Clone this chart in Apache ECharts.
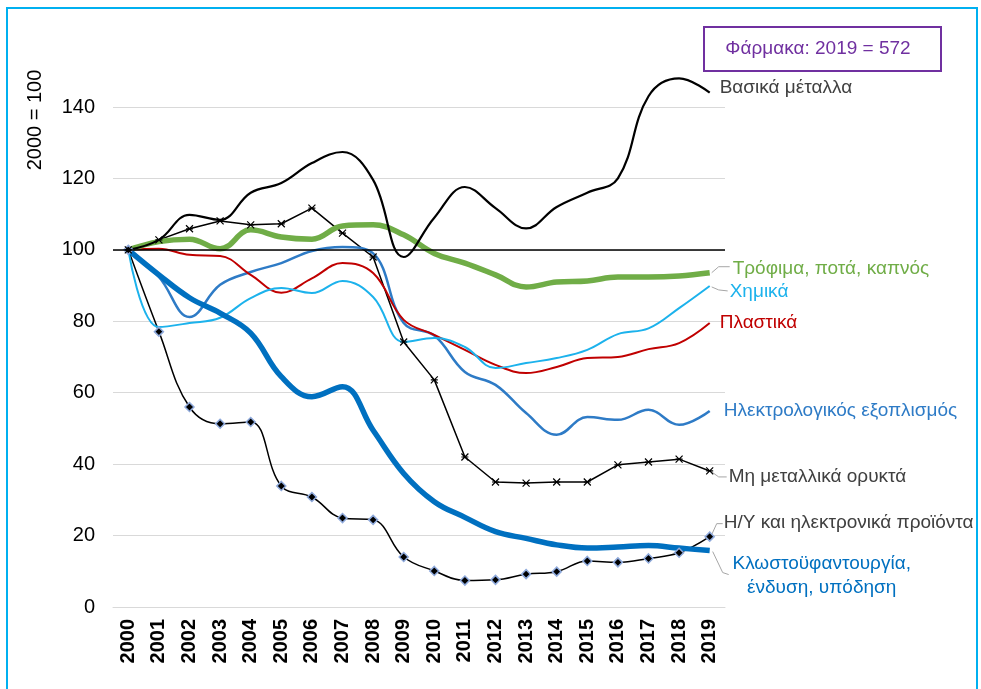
<!DOCTYPE html>
<html>
<head>
<meta charset="utf-8">
<script src="https://cdn.jsdelivr.net/npm/echarts@6/dist/echarts.min.js"></script>
<style>
  html, body { margin: 0; padding: 0; background: #fff; }
  #chart { width: 981px; height: 689px; }
</style>
</head>
<body>
<div id="chart"></div>
<script>
// ====== Data ======
const years = ['2000', '2001', '2002', '2003', '2004', '2005', '2006', '2007', '2008', '2009',
  '2010', '2011', '2012', '2013', '2014', '2015', '2016', '2017', '2018', '2019'];

const basicMetals = [100, 102.8, 109.8, 108.4, 116, 118.7, 124.3, 127.4, 119.6, 98, 109, 117.6, 111.7, 106, 112, 116, 120, 143, 148, 144];
const food = [100, 102.3, 103, 100.3, 105.6, 103.6, 103, 106.7, 107, 104.2, 99, 96.3, 93, 89.6, 91, 91.3, 92.4, 92.4, 92.7, 93.6];
const chemicals = [100, 78.4, 79.5, 81, 86.5, 89.3, 87.9, 91.3, 86.8, 74.2, 75.3, 72.8, 66.9, 68.3, 69.7, 72, 76.4, 78, 83.7, 89.9];
const plastics = [100, 100.3, 98.6, 98.3, 93, 88, 92, 96.3, 93.5, 80.4, 76.2, 72, 67.8, 65.5, 67.2, 69.7, 70, 72.2, 73.9, 79.5];
const electrical = [100, 92.4, 81.2, 90.2, 93.8, 96.3, 99.7, 100.8, 99, 79.5, 76, 65.8, 62.2, 54.3, 48.2, 53.2, 52.4, 55.2, 51, 54.9];
const nonMetallic = [100, 102.8, 105.9, 108.1, 107, 107.3, 111.7, 104.7, 98, 74.2, 63.6, 42, 35, 34.7, 35, 35, 39.8, 40.6, 41.4, 38.1];
const computers = [100, 77.1, 56, 51.3, 51.8, 33.9, 30.8, 24.9, 24.4, 14, 10.1, 7.4, 7.6, 9.2, 9.9, 12.9, 12.5, 13.6, 15.2, 19.7];
const textiles = [100, 93, 86.6, 82.3, 76.7, 64.5, 58.9, 61.7, 49.5, 37.4, 29.5, 25.1, 21.1, 19.2, 17.4, 16.5, 16.8, 17.2, 16.5, 15.8];

const yTicks = [0, 20, 40, 60, 80, 100, 120, 140];
const baseValue = 100;
const note = 'Φάρμακα: 2019 = 572';

const FONT = '"Liberation Sans", Arial, sans-serif';

// end label helper: text next to last point
function endLabel(text, color, offset, extra) {
  return Object.assign({
    show: true,
    formatter: text,
    color: color,
    fontFamily: FONT,
    fontSize: 19,
    offset: offset,
    align: 'left',
    verticalAlign: 'middle',
    distance: 0
  }, extra || {});
}

const starSymbol = 'path://M0,0L10,10M10,0L0,10M0,5L10,5';

const chartDom = document.getElementById('chart');
const myChart = echarts.init(chartDom);

const option = {
  animation: false,
  textStyle: { fontFamily: FONT },
  grid: { left: 113, right: 256, top: 107, bottom: 82 },
  xAxis: {
    type: 'category',
    data: years,
    boundaryGap: true,
    axisLine: { lineStyle: { color: '#D9D9D9' } },
    axisTick: { show: false },
    axisLabel: {
      rotate: 90,
      color: '#000',
      fontWeight: 'bold',
      fontSize: 20,
      fontFamily: FONT,
      margin: 12,
      interval: 0
    }
  },
  yAxis: {
    type: 'value',
    min: yTicks[0],
    max: yTicks[yTicks.length - 1],
    interval: 20,
    axisLine: { show: false },
    axisTick: { show: false },
    splitLine: { lineStyle: { color: '#D9D9D9', width: 1 } },
    axisLabel: { color: '#000', fontSize: 20, fontFamily: FONT, margin: 18 }
  },
  series: [
    {
      name: 'Η/Υ και ηλεκτρονικά προϊόντα',
      type: 'line',
      data: computers,
      smooth: 0.4,
      symbol: 'diamond',
      symbolSize: 9,
      lineStyle: { color: '#000', width: 1.5 },
      itemStyle: { color: '#000', borderColor: '#8FAADC', borderWidth: 1.5 },
      endLabel: endLabel('Η/Υ και ηλεκτρονικά προϊόντα', '#404040', [14, -14])
    },
    {
      name: 'Μη μεταλλικά ορυκτά',
      type: 'line',
      data: nonMetallic,
      smooth: false,
      symbol: starSymbol,
      symbolSize: 7,
      lineStyle: { color: '#000', width: 1.5 },
      itemStyle: { color: '#000', borderColor: '#000', borderWidth: 1.2 },
      endLabel: endLabel('Μη μεταλλικά ορυκτά', '#404040', [19, 6])
    },
    {
      name: 'Ηλεκτρολογικός εξοπλισμός',
      type: 'line',
      data: electrical,
      smooth: 0.4,
      showSymbol: false,
      lineStyle: { color: '#2E7BC6', width: 2.5 },
      itemStyle: { color: '#2E7BC6' },
      endLabel: endLabel('Ηλεκτρολογικός εξοπλισμός', '#2E7BC6', [14, 0])
    },
    {
      name: 'Πλαστικά',
      type: 'line',
      data: plastics,
      smooth: 0.4,
      showSymbol: false,
      lineStyle: { color: '#C00000', width: 2 },
      itemStyle: { color: '#C00000' },
      endLabel: endLabel('Πλαστικά', '#C00000', [10, 0])
    },
    {
      name: 'Χημικά',
      type: 'line',
      data: chemicals,
      smooth: 0.4,
      showSymbol: false,
      lineStyle: { color: '#1CB2EC', width: 2 },
      itemStyle: { color: '#1CB2EC' },
      endLabel: endLabel('Χημικά', '#1CB2EC', [20, 6])
    },
    {
      name: 'Τρόφιμα, ποτά, καπνός',
      type: 'line',
      data: food,
      smooth: 0.4,
      showSymbol: false,
      lineStyle: { color: '#70AD47', width: 5.5 },
      itemStyle: { color: '#70AD47' },
      endLabel: endLabel('Τρόφιμα, ποτά, καπνός', '#70AD47', [23, -4])
    },
    {
      name: 'Βασικά μέταλλα',
      type: 'line',
      data: basicMetals,
      smooth: 0.4,
      showSymbol: false,
      clip: false,
      lineStyle: { color: '#000', width: 2.2 },
      itemStyle: { color: '#000' },
      endLabel: endLabel('Βασικά μέταλλα', '#404040', [10, -5]),
      markLine: {
        silent: true,
        symbol: 'none',
        label: { show: false },
        lineStyle: { color: '#000', width: 1.5, type: 'solid' },
        data: [{ yAxis: baseValue }]
      }
    },
    {
      name: 'Κλωστοϋφαντουργία, ένδυση, υπόδηση',
      type: 'line',
      data: textiles,
      smooth: 0.4,
      showSymbol: false,
      lineStyle: { color: '#0070C0', width: 5.5 },
      itemStyle: { color: '#0070C0' },
      endLabel: endLabel('Κλωστοϋφαντουργία,\nένδυση, υπόδηση', '#0070C0', [112, 25],
        { align: 'center', lineHeight: 24 })
    }
  ],
  graphic: [
    {
      type: 'rect',
      shape: { x: 7, y: 8, width: 970, height: 700 },
      style: { fill: 'none', stroke: '#00B0F0', lineWidth: 2 },
      silent: true
    },
    {
      type: 'text',
      x: 35, y: 120,
      rotation: Math.PI / 2,
      style: {
        text: '2000 = 100',
        fill: '#000',
        font: '20px ' + FONT,
        align: 'center',
        verticalAlign: 'middle'
      }
    },
    {
      type: 'rect',
      shape: { x: 704, y: 27, width: 237, height: 44 },
      style: { fill: '#fff', stroke: '#7030A0', lineWidth: 2 }
    },
    {
      type: 'text',
      x: 818, y: 49,
      style: {
        text: note,
        fill: '#7030A0',
        font: '19px ' + FONT,
        align: 'center',
        verticalAlign: 'middle'
      }
    }
  ]
};

myChart.setOption(option);

// leader lines from last points to labels (gray)
const leaders = [
  { data: food, pts: [[2, 0], [9, -6], [20, -6]] },
  { data: chemicals, pts: [[2, 1], [9, 4], [18, 5]] },
  { data: nonMetallic, pts: [[2, 1], [9, 6], [17, 6]] },
  { data: computers, pts: [[2, -2], [7, -13], [13, -13]] },
  { data: textiles, pts: [[3, 1], [13, 22], [19, 24]] }
];
const extra = leaders.map(l => {
  const end = myChart.convertToPixel({ gridIndex: 0 }, [years.length - 1, l.data[l.data.length - 1]]);
  return {
    type: 'polyline',
    shape: { points: l.pts.map(p => [end[0] + p[0], end[1] + p[1]]) },
    style: { stroke: '#A6A6A6', lineWidth: 1, fill: 'none' },
    silent: true
  };
});
myChart.setOption({ graphic: option.graphic.concat(extra) });
</script>
</body>
</html>
